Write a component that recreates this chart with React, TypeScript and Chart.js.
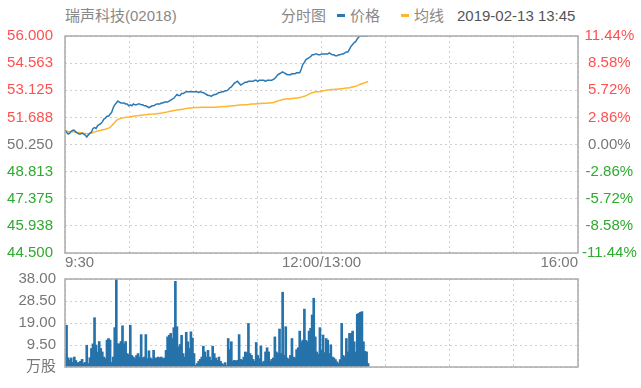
import React, { useEffect, useRef } from 'react';
import { Chart, registerables } from 'chart.js';
Chart.register(...registerables);

const stockName = '瑞声科技(02018)';
const chartTitle = '分时图';
const priceLabel = '价格';
const avgLabel = '均线';
const timestamp = '2019-02-13 13:45';
const prevClose = 50.25;
const priceMin = 44.5;
const priceMax = 56.0;
const totalMinutes = 330;
const priceTicks = [44.5, 45.9375, 47.375, 48.8125, 50.25, 51.6875, 53.125, 54.5625, 56.0];
const timeGrid = [0, 41.25, 82.5, 123.75, 165, 206.25, 247.5, 288.75, 330];
const timeTickLabels: Record<number, string> = { 0: '9:30', 165: '12:00/13:00', 330: '16:00' };
const volumeTicks = [0, 9.5, 19, 28.5, 38];
const volumeUnit = '万股';

const price = [
  51.00, 50.90, 50.80, 50.85, 50.95, 51.00, 51.00, 50.90, 50.85, 50.80,
  50.80, 50.85, 50.80, 50.75, 50.65, 50.75, 50.85, 50.90, 51.10, 51.15,
  51.10, 51.25, 51.30, 51.35, 51.45, 51.60, 51.65, 51.75, 51.75, 51.85,
  51.95, 52.20, 52.35, 52.45, 52.55, 52.50, 52.45, 52.45, 52.45, 52.40,
  52.40, 52.30, 52.35, 52.30, 52.40, 52.35, 52.35, 52.40, 52.40, 52.35,
  52.35, 52.30, 52.30, 52.25, 52.20, 52.25, 52.30, 52.30, 52.35, 52.40,
  52.40, 52.40, 52.45, 52.45, 52.50, 52.50, 52.50, 52.55, 52.60, 52.65,
  52.70, 52.80, 52.90, 52.85, 52.85, 52.95, 52.95, 53.00, 53.05, 53.05,
  53.05, 53.05, 53.05, 53.05, 53.05, 53.05, 53.00, 53.05, 53.00, 53.00,
  52.95, 52.90, 52.85, 52.85, 52.80, 52.85, 52.90, 52.90, 52.95, 53.00,
  53.00, 53.05, 53.05, 53.10, 53.10, 53.15, 53.25, 53.30, 53.40, 53.50,
  53.55, 53.60, 53.50, 53.40, 53.45, 53.50, 53.55, 53.55, 53.60, 53.60,
  53.60, 53.60, 53.65, 53.65, 53.60, 53.65, 53.65, 53.65, 53.65, 53.60,
  53.65, 53.65, 53.65, 53.65, 53.70, 53.75, 53.85, 53.95, 54.00, 54.05,
  54.10, 54.05, 54.00, 53.95, 53.95, 53.95, 54.00, 54.00, 54.00, 54.05,
  54.05, 54.05, 54.25, 54.50, 54.60, 54.75, 54.80, 54.85, 54.90, 55.00,
  55.00, 55.05, 55.05, 55.00, 55.00, 55.05, 55.05, 55.05, 55.05, 55.05,
  55.10, 55.05, 55.00, 55.00, 54.95, 54.95, 55.00, 55.00, 55.05, 55.05,
  55.10, 55.15, 55.15, 55.30, 55.45, 55.55, 55.65, 55.70, 55.85, 55.95,
  56.00, 56.00, 56.00, 56.00, 56.00, 56.00,
];

const avgPrice = [
  51.00, 50.97, 50.93, 50.92, 50.92, 50.92, 50.92, 50.91, 50.90, 50.88,
  50.87, 50.86, 50.85, 50.84, 50.82, 50.82, 50.83, 50.85, 50.88, 50.92,
  50.94, 50.96, 50.98, 51.00, 51.02, 51.04, 51.06, 51.09, 51.12, 51.16,
  51.24, 51.33, 51.42, 51.52, 51.58, 51.61, 51.64, 51.66, 51.67, 51.69,
  51.70, 51.71, 51.73, 51.74, 51.75, 51.76, 51.77, 51.78, 51.79, 51.80,
  51.81, 51.82, 51.83, 51.84, 51.85, 51.85, 51.86, 51.87, 51.87, 51.88,
  51.89, 51.90, 51.92, 51.93, 51.95, 51.96, 51.98, 52.00, 52.02, 52.03,
  52.05, 52.07, 52.08, 52.09, 52.10, 52.11, 52.13, 52.14, 52.16, 52.17,
  52.18, 52.19, 52.20, 52.21, 52.21, 52.21, 52.21, 52.22, 52.22, 52.22,
  52.22, 52.22, 52.22, 52.22, 52.22, 52.22, 52.23, 52.23, 52.24, 52.24,
  52.25, 52.25, 52.26, 52.26, 52.27, 52.28, 52.29, 52.30, 52.31, 52.31,
  52.32, 52.33, 52.34, 52.34, 52.35, 52.35, 52.36, 52.36, 52.37, 52.38,
  52.39, 52.39, 52.40, 52.41, 52.41, 52.42, 52.42, 52.43, 52.43, 52.44,
  52.44, 52.45, 52.45, 52.46, 52.47, 52.50, 52.53, 52.56, 52.59, 52.61,
  52.64, 52.65, 52.66, 52.67, 52.67, 52.68, 52.69, 52.70, 52.70, 52.71,
  52.72, 52.74, 52.76, 52.78, 52.81, 52.84, 52.88, 52.92, 52.96, 52.99,
  53.02, 53.03, 53.04, 53.05, 53.06, 53.08, 53.10, 53.11, 53.13, 53.14,
  53.15, 53.16, 53.17, 53.17, 53.18, 53.18, 53.19, 53.20, 53.21, 53.22,
  53.23, 53.24, 53.25, 53.26, 53.28, 53.30, 53.32, 53.34, 53.37, 53.41,
  53.44, 53.47, 53.50, 53.53, 53.56, 53.58,
];

const volume = [
  5, 18, 4, 3, 3.9, 2, 4.3, 2.8, 1.8, 2,
  2.5, 3.3, 1.5, 2, 9.4, 1.5, 4, 8, 10, 21.3,
  9.5, 6.5, 11, 8, 6.5, 4.3, 3.6, 11.6, 12.3, 11.6,
  2, 4.3, 17, 38, 10, 10, 11, 17.8, 10, 11,
  5.8, 5.3, 18, 5, 4.3, 3.6, 5, 5.8, 4.3, 14,
  3.9, 4.3, 14, 3.6, 7, 3.9, 3.3, 7.2, 3.9, 3.9,
  4.3, 3.9, 4.3, 3.6, 3.9, 7.2, 13, 13.7, 14.5, 12.3,
  17, 37, 17.4, 8.7, 9.7, 13.7, 5.8, 4.3, 15, 10.9,
  8, 15.2, 12.5, 5.8, 0.7, 1.5, 2.5, 3.3, 4.3, 9,
  6.5, 4.3, 7.2, 4.3, 2.9, 9, 5.8, 3.9, 2.9, 4.3,
  2.5, 1.5, 1, 1.9, 0.7, 12.3, 7.5, 10.9, 2.5, 2.9,
  2.5, 2.9, 14, 3.3, 2.9, 4.3, 6.5, 6.2, 18.8, 5.8,
  5, 3.3, 2.5, 10.6, 5, 3.6, 9.1, 1.9, 2.5, 6.5,
  8.3, 6.5, 2.5, 3.3, 3.9, 13, 6.5, 5.8, 16.4, 5.8,
  32.3, 5, 17.4, 3.9, 3.3, 5, 12.3, 4.3, 3.9, 7.5,
  8.3, 15.5, 10.9, 11.6, 25, 11.5, 10.9, 15.5, 16.7, 22.5,
  29.7, 13, 6.5, 5.5, 17, 7.2, 13.8, 6.2, 12.3, 11.6,
  5.8, 9.6, 4.3, 3.9, 3.2, 2.2, 1.5, 3.2, 18.8, 5,
  4.3, 12.3, 6.5, 14.5, 14.5, 15.5, 10.9, 6.5, 22.8, 23.2,
  23.6, 23.9, 10.9, 6.8, 6.5, 1.5,
];

const RED = '#ff5050';
const GREEN = '#2eaa2e';
const GRAY = '#777777';
const BLUE = '#2a79b5';
const ORANGE = '#ffb52e';
const BAR = '#2672aa';
const GRID = '#cfcfcf';
const FONT = '"Liberation Sans", Arial, "Noto Sans CJK SC", sans-serif';

const framePlugin = {
  id: 'frame',
  afterDatasetsDraw(chart: any) {
    const { ctx, chartArea: a } = chart;
    ctx.save();
    ctx.strokeStyle = '#ababab';
    ctx.lineWidth = 1.5;
    ctx.strokeRect(a.left, a.top, a.right - a.left, a.bottom - a.top);
    ctx.restore();
  },
};

const tickColor = (v: number) => (Math.abs(v - prevClose) < 1e-6 ? GRAY : v > prevClose ? RED : GREEN);

export default function App() {
  const mainRef = useRef<HTMLCanvasElement>(null);
  const volRef = useRef<HTMLCanvasElement>(null);

  useEffect(() => {
    const xGridAxis = (showLabels: boolean) => ({
      type: 'linear',
      min: 0,
      max: totalMinutes,
      offset: false,
      afterBuildTicks: (s: any) => { s.ticks = timeGrid.map((v) => ({ value: v })); },
      afterFit: (s: any) => { s.height = showLabels ? 23 : 0; },
      grid: { color: GRID, drawTicks: false, lineWidth: 1, offset: false },
      border: { display: false, dash: [2, 3] },
      ticks: {
        display: showLabels,
        autoSkip: false,
        maxRotation: 0,
        align: 'inner',
        padding: 1,
        color: GRAY,
        font: { family: FONT, size: 15 },
        callback: (v: number) => timeTickLabels[v] ?? '',
      },
    });

    const main = new Chart(mainRef.current!, {
      type: 'line',
      data: {
        datasets: [
          {
            label: priceLabel,
            data: price.map((v, i) => ({ x: i, y: v })),
            borderColor: BLUE,
            borderWidth: 1.5,
            pointRadius: 0,
            yAxisID: 'y',
          },
          {
            label: avgLabel,
            data: avgPrice.map((v, i) => ({ x: i, y: v })),
            borderColor: ORANGE,
            borderWidth: 1.5,
            pointRadius: 0,
            yAxisID: 'y',
          },
        ],
      },
      options: {
        responsive: false,
        animation: false,
        events: [],
        layout: { padding: { top: 9, left: 0, right: 0, bottom: 0 } },
        plugins: { legend: { display: false }, tooltip: { enabled: false } },
        scales: {
          x: xGridAxis(true) as any,
          y: {
            position: 'left',
            min: priceMin,
            max: priceMax,
            afterBuildTicks: (s: any) => { s.ticks = priceTicks.map((v) => ({ value: v })); },
            afterFit: (s: any) => { s.width = 65; },
            grid: { color: GRID, drawTicks: false },
            border: { display: false, dash: [2, 3] },
            ticks: {
              padding: 12,
              font: { family: FONT, size: 15 },
              color: (c: any) => tickColor(c.tick.value),
              callback: (v: number) => v.toFixed(3),
            },
          },
          y1: {
            position: 'right',
            min: priceMin,
            max: priceMax,
            afterBuildTicks: (s: any) => { s.ticks = priceTicks.map((v) => ({ value: v })); },
            afterFit: (s: any) => { s.width = 63; },
            grid: { display: false, drawTicks: false },
            border: { display: false },
            ticks: {
              padding: 4,
              crossAlign: 'center',
              font: { family: FONT, size: 15 },
              color: (c: any) => tickColor(c.tick.value),
              callback: (v: number) => (((v - prevClose) / prevClose) * 100).toFixed(2) + '%',
            },
          },
        },
      } as any,
      plugins: [framePlugin],
    });

    const vol = new Chart(volRef.current!, {
      type: 'bar',
      data: {
        datasets: [
          {
            label: volumeUnit,
            data: volume.map((v, i) => ({ x: i, y: v })),
            backgroundColor: BAR,
            borderWidth: 0,
            barThickness: 2,
          },
        ],
      },
      options: {
        responsive: false,
        animation: false,
        events: [],
        layout: { padding: { top: 9, left: 0, right: 63, bottom: 21 } },
        plugins: { legend: { display: false }, tooltip: { enabled: false } },
        scales: {
          x: xGridAxis(false) as any,
          y: {
            position: 'left',
            min: 0,
            max: volumeTicks[volumeTicks.length - 1],
            afterBuildTicks: (s: any) => { s.ticks = volumeTicks.map((v) => ({ value: v })); },
            afterFit: (s: any) => { s.width = 65; },
            grid: { color: GRID, drawTicks: false },
            border: { display: false, dash: [2, 3] },
            ticks: {
              padding: 9,
              color: GRAY,
              font: { family: FONT, size: 15 },
              callback: (v: number) => (v === 0 ? volumeUnit : v.toFixed(2)),
            },
          },
        },
      } as any,
      plugins: [framePlugin],
    });

    return () => {
      main.destroy();
      vol.destroy();
    };
  }, []);

  const txt: React.CSSProperties = {
    position: 'absolute',
    top: 8,
    fontFamily: FONT,
    fontSize: 15,
    lineHeight: '15px',
    color: '#888',
    whiteSpace: 'nowrap',
  };
  const dash = (color: string, left: number): React.CSSProperties => ({
    position: 'absolute',
    left,
    top: 14,
    width: 8,
    height: 3,
    background: color,
  });

  return (
    <div style={{ position: 'absolute', left: 0, top: 0, width: 641, height: 388, background: '#fff', overflow: 'hidden' }}>
      <span style={{ ...txt, left: 65 }}>{stockName}</span>
      <span style={{ ...txt, left: 281 }}>{chartTitle}</span>
      <span style={dash(BLUE, 337)} />
      <span style={{ ...txt, left: 350 }}>{priceLabel}</span>
      <span style={dash(ORANGE, 401)} />
      <span style={{ ...txt, left: 414 }}>{avgLabel}</span>
      <span style={{ ...txt, left: 457, color: '#555' }}>{timestamp}</span>
      <canvas ref={mainRef} width={641} height={261} style={{ position: 'absolute', left: 0, top: 15 }} />
      <canvas ref={volRef} width={641} height={127} style={{ position: 'absolute', left: 0, top: 261 }} />
    </div>
  );
}
